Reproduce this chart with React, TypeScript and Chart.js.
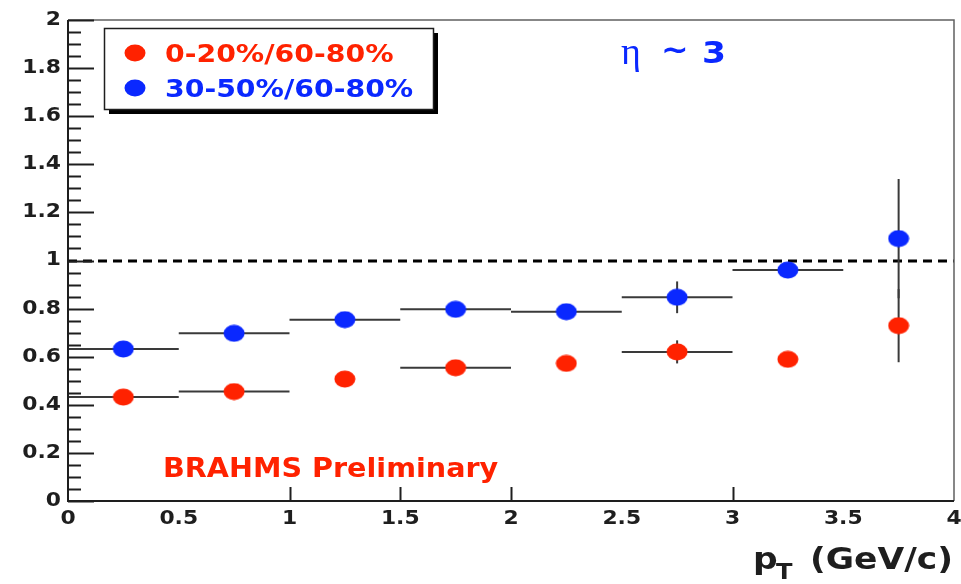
import React, { useEffect, useRef } from "react";
import { Chart, registerables } from "chart.js";

Chart.register(...registerables);

// pT bin centres (GeV/c)
const ptBins = [0.25, 0.75, 1.25, 1.75, 2.25, 2.75, 3.25, 3.75];

// 0-20% / 60-80% ratio
const centralRatio = [0.432, 0.455, 0.507, 0.554, 0.572, 0.62, 0.589, 0.729];
const centralErrY = [0, 0, 0, 0, 0, 0.048, 0, 0.152];
const centralErrX = [0.25, 0.25, 0, 0.25, 0, 0.25, 0, 0];

// 30-50% / 60-80% ratio
const midRatio = [0.632, 0.697, 0.754, 0.797, 0.787, 0.847, 0.96, 1.091];
const midErrY = [0, 0, 0, 0, 0, 0.066, 0, 0.248];
const midErrX = [0.25, 0.25, 0.25, 0.25, 0.25, 0.25, 0.25, 0];

const seriesLabels = ["0-20%/60-80%", "30-50%/60-80%"];

// axis ticks
const yTickValues = [0, 0.2, 0.4, 0.6, 0.8, 1, 1.2, 1.4, 1.6, 1.8, 2];
const yTickLabels = ["0", "0.2", "0.4", "0.6", "0.8", "1", "1.2", "1.4", "1.6", "1.8", "2"];
const yMinorStep = 0.05;
const xTickValues = [0, 0.5, 1, 1.5, 2, 2.5, 3, 3.5, 4];
const xTickLabels = ["0", "0.5", "1", "1.5", "2", "2.5", "3", "3.5", "4"];
const xTickMarks = [1, 1.5, 2, 3];
const referenceLevel = 1;

const RED = "#ff2200";
const BLUE = "#0a28ff";
const INK = "#1e1e1e";
const ERR = "#3a3a3a";
const SANS_BOLD = "bold %px 'DejaVu Sans'";

const font = (px: number) => SANS_BOLD.replace("%", String(px));

function makeMarker(color: string) {
  const c = document.createElement("canvas");
  c.width = 22;
  c.height = 18;
  const g = c.getContext("2d")!;
  g.fillStyle = color;
  g.beginPath();
  g.ellipse(11, 9, 10.5, 8.5, 0, 0, Math.PI * 2);
  g.fill();
  return c;
}

function drawText(
  ctx: CanvasRenderingContext2D,
  text: string,
  x: number,
  y: number,
  f: string,
  color: string,
  sx: number,
  align: "left" | "center" | "right",
  baseline: CanvasTextBaseline
) {
  ctx.save();
  ctx.font = f;
  ctx.fillStyle = color;
  ctx.textAlign = "left";
  ctx.textBaseline = baseline;
  const w = ctx.measureText(text).width * sx;
  const left = align === "left" ? x : align === "center" ? x - w / 2 : x - w;
  ctx.translate(left, y);
  ctx.scale(sx, 1);
  ctx.fillText(text, 0, 0);
  ctx.restore();
}

const errorBars = {
  id: "errorBars",
  beforeDatasetsDraw(chart: any) {
    const ctx: CanvasRenderingContext2D = chart.ctx;
    const xs = chart.scales.x;
    const ys = chart.scales.y;
    const area = chart.chartArea;

    // dashed reference line
    ctx.save();
    ctx.strokeStyle = "#000";
    ctx.lineWidth = 3;
    ctx.setLineDash([9, 6]);
    const yr = Math.round(ys.getPixelForValue(referenceLevel));
    ctx.beginPath();
    ctx.moveTo(area.left, yr);
    ctx.lineTo(area.right, yr);
    ctx.stroke();
    ctx.restore();

    const sets = [
      { y: centralRatio, ex: centralErrX, ey: centralErrY },
      { y: midRatio, ex: midErrX, ey: midErrY },
    ];
    ctx.save();
    ctx.strokeStyle = ERR;
    ctx.lineWidth = 2;
    for (const s of sets) {
      ptBins.forEach((x, i) => {
        const px = xs.getPixelForValue(x);
        const py = ys.getPixelForValue(s.y[i]);
        if (s.ex[i] > 0) {
          ctx.beginPath();
          ctx.moveTo(xs.getPixelForValue(x - s.ex[i]), py);
          ctx.lineTo(xs.getPixelForValue(x + s.ex[i]), py);
          ctx.stroke();
        }
        if (s.ey[i] > 0) {
          ctx.beginPath();
          ctx.moveTo(px, ys.getPixelForValue(s.y[i] - s.ey[i]));
          ctx.lineTo(px, ys.getPixelForValue(s.y[i] + s.ey[i]));
          ctx.stroke();
        }
      });
    }
    ctx.restore();
  },
};

const frameAndLabels = {
  id: "frameAndLabels",
  afterDraw(chart: any) {
    const ctx: CanvasRenderingContext2D = chart.ctx;
    const xs = chart.scales.x;
    const ys = chart.scales.y;
    const a = chart.chartArea;

    // frame
    ctx.save();
    ctx.strokeStyle = "#606060";
    ctx.lineWidth = 1.5;
    ctx.beginPath();
    ctx.moveTo(a.left, a.top);
    ctx.lineTo(a.right, a.top);
    ctx.lineTo(a.right, a.bottom);
    ctx.stroke();
    ctx.strokeStyle = INK;
    ctx.lineWidth = 2;
    ctx.beginPath();
    ctx.moveTo(a.left, a.top);
    ctx.lineTo(a.left, a.bottom);
    ctx.lineTo(a.right, a.bottom);
    ctx.stroke();

    // y ticks, pointing inward
    const yMin = ys.min;
    const yMax = ys.max;
    const nMinor = Math.round((yMax - yMin) / yMinorStep);
    for (let k = 0; k <= nMinor; k++) {
      const v = yMin + k * yMinorStep;
      const isMajor = yTickValues.some((t) => Math.abs(t - v) < 1e-6);
      const py = Math.round(ys.getPixelForValue(v)) + 0.5;
      ctx.beginPath();
      ctx.moveTo(a.left, py);
      ctx.lineTo(a.left + (isMajor ? 26 : 13), py);
      ctx.stroke();
    }
    // x ticks
    for (const v of xTickMarks) {
      const px = Math.round(xs.getPixelForValue(v)) + 0.5;
      ctx.beginPath();
      ctx.moveTo(px, a.bottom);
      ctx.lineTo(px, a.bottom - 14);
      ctx.stroke();
    }
    ctx.restore();

    // tick labels
    yTickValues.forEach((v, i) => {
      drawText(ctx, yTickLabels[i], a.left - 7, ys.getPixelForValue(v), font(19), INK, 1.15, "right", "middle");
    });
    xTickValues.forEach((v, i) => {
      drawText(ctx, xTickLabels[i], xs.getPixelForValue(v), a.bottom + 18, font(19), INK, 1.15, "center", "middle");
    });

    // x-axis title: p_T (GeV/c)
    drawText(ctx, "p", 753, 569, font(30), INK, 1.15, "left", "alphabetic");
    drawText(ctx, "T", 776, 579, font(21), INK, 1.15, "left", "alphabetic");
    drawText(ctx, "(GeV/c)", 953, 569, font(30), INK, 1.15, "right", "alphabetic");

    // legend box with drop shadow
    const lx = 104, ly = 28, lw = 329, lh = 81;
    ctx.save();
    ctx.fillStyle = "#000";
    ctx.fillRect(lx + 5, ly + 5, lw, lh);
    ctx.fillStyle = "#fff";
    ctx.fillRect(lx, ly, lw, lh);
    ctx.strokeStyle = INK;
    ctx.lineWidth = 1.5;
    ctx.strokeRect(lx + 0.5, ly + 0.5, lw, lh);
    const colors = [RED, BLUE];
    const rows = [53, 88];
    seriesLabels.forEach((lab, i) => {
      ctx.fillStyle = colors[i];
      ctx.beginPath();
      ctx.ellipse(135, rows[i], 10.5, 8.5, 0, 0, Math.PI * 2);
      ctx.fill();
      drawText(ctx, lab, 165, rows[i] + 9, font(24), colors[i], 1.18, "left", "alphabetic");
    });
    ctx.restore();

    // rapidity annotation
    ctx.save();
    ctx.font = "38px 'Liberation Serif'";
    ctx.fillStyle = BLUE;
    ctx.textBaseline = "alphabetic";
    ctx.fillText("\u03b7", 621, 64);
    ctx.restore();
    drawText(ctx, "~", 661, 60, font(30), BLUE, 1.1, "left", "alphabetic");
    drawText(ctx, "3", 702, 63, font(30), BLUE, 1.15, "left", "alphabetic");

    // experiment tag
    drawText(ctx, "BRAHMS Preliminary", 163, 477, font(27), RED, 1.06, "left", "alphabetic");
  },
};

export default function App() {
  const ref = useRef<HTMLCanvasElement | null>(null);

  useEffect(() => {
    if (!ref.current) return;
    const chart = new Chart(ref.current, {
      type: "scatter",
      data: {
        datasets: [
          {
            label: seriesLabels[0],
            data: ptBins.map((x, i) => ({ x, y: centralRatio[i] })),
            pointStyle: makeMarker(RED) as any,
            backgroundColor: RED,
            borderColor: RED,
          },
          {
            label: seriesLabels[1],
            data: ptBins.map((x, i) => ({ x, y: midRatio[i] })),
            pointStyle: makeMarker(BLUE) as any,
            backgroundColor: BLUE,
            borderColor: BLUE,
          },
        ],
      },
      options: {
        responsive: false,
        animation: false,
        layout: { padding: { left: 68, top: 20, right: 7, bottom: 83 } },
        plugins: { legend: { display: false }, tooltip: { enabled: false } },
        scales: {
          x: { type: "linear", min: 0, max: 4, display: false },
          y: { type: "linear", min: 0, max: 2, display: false },
        },
      },
      plugins: [errorBars, frameAndLabels],
    });
    return () => chart.destroy();
  }, []);

  return (
    <div style={{ position: "fixed", left: 0, top: 0, width: 961, height: 584, background: "#fff" }}>
      <canvas ref={ref} width={961} height={584} style={{ display: "block" }} />
    </div>
  );
}
